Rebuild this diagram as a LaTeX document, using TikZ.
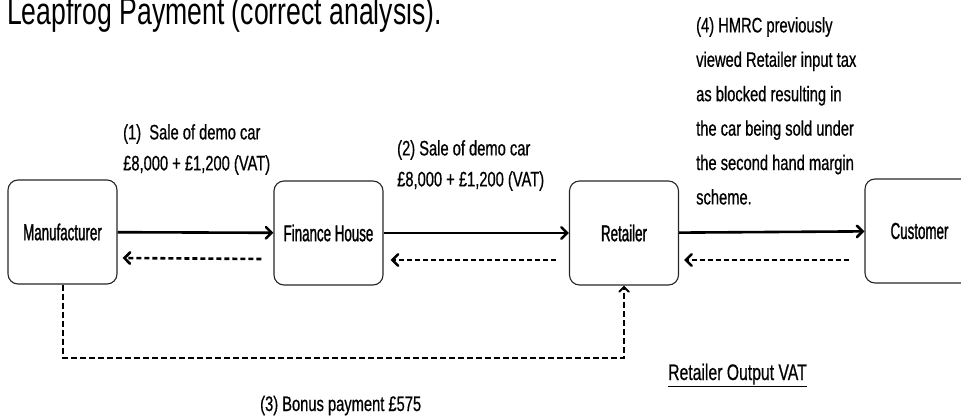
\documentclass[tikz,border=0pt]{standalone}
\usepackage{fontspec}
\setmainfont{Liberation Sans}
\newfontfamily\titlefont[FakeStretch=0.7]{Liberation Sans}
\newfontfamily\labelfont[FakeStretch=0.7,FakeBold=0.6]{Liberation Sans}
\newfontfamily\boxfont[FakeStretch=0.58,FakeBold=1.2]{Liberation Sans}
\usetikzlibrary{arrows}

\tikzset{
	party/.style={draw=black!85,line width=1.1pt,rounded corners=10pt,
		minimum width=109pt,minimum height=104pt,inner sep=0pt,
		font=\boxfont\fontsize{23}{23}\selectfont},
	note/.style={align=left,anchor=north west,inner sep=0pt},
	sale/.style={->,line width=2.6pt,>=angle 90},
	refund/.style={->,line width=2.6pt,>=angle 90,dash pattern=on 5pt off 3pt},
	bonus/.style={->,line width=2pt,>=angle 90,dash pattern=on 6pt off 3pt},
}

\begin{document}
\begin{tikzpicture}[x=1pt,y=-1pt]
		\clip (0,0) rectangle (961,417);
		\node[anchor=base west,inner sep=0pt,font=\titlefont\fontsize{38}{38}\selectfont] (title) at (7,25) {Leapfrog Payment (correct analysis).};
		%
		\node[party] (man) at (62.5,232) {Manufacturer};
		\node[party] (fin) at (328.5,233) {Finance House};
		\node[party] (ret) at (624,233) {Retailer};
		\node[party] (cus) at (919.5,231) {Customer};
		%
		\path[sale]
		(man) edge (fin)
		(fin) edge (ret)
		(ret) edge (cus);
		\draw[refund] ([xshift=-12pt,yshift=-26pt]fin.west) -- ([xshift=5pt,yshift=-26pt]man.east);
		\draw[refund] ([xshift=-13pt,yshift=-27pt]ret.west) -- ([xshift=7pt,yshift=-27pt]fin.east);
		\draw[refund] ([xshift=-15pt,yshift=-29pt]cus.west) -- ([xshift=5pt,yshift=-27pt]ret.east);
		\draw[bonus] (man.south) -- ++(0,73) -| (ret.south);
		%
		\begin{scope}[font=\labelfont\fontsize{21}{31}\selectfont]
		\node[note] (sale1) at (123,124) {(1)~ Sale of demo car\\\pounds8,000 + \pounds1,200 (VAT)};
		\node[note] (sale2) at (397,140) {(2) Sale of demo car\\\pounds8,000 + \pounds1,200 (VAT)};
		\node[note,font=\labelfont\fontsize{21}{34.4}\selectfont] (hmrc) at (696,17) {(4) HMRC previously\\viewed Retailer input tax\\as blocked resulting in\\the car being sold under\\the second hand margin\\scheme.};
		\node[anchor=base west,inner sep=0pt] (bonuslbl) at (260,411) {(3) Bonus payment \pounds575};
		\node[anchor=base west,inner sep=0pt,font=\labelfont\fontsize{22.5}{22.5}\selectfont] (outvat) at (668,380) {\underline{Retailer Output VAT}};
		\end{scope}
	\end{tikzpicture}
\end{document}
